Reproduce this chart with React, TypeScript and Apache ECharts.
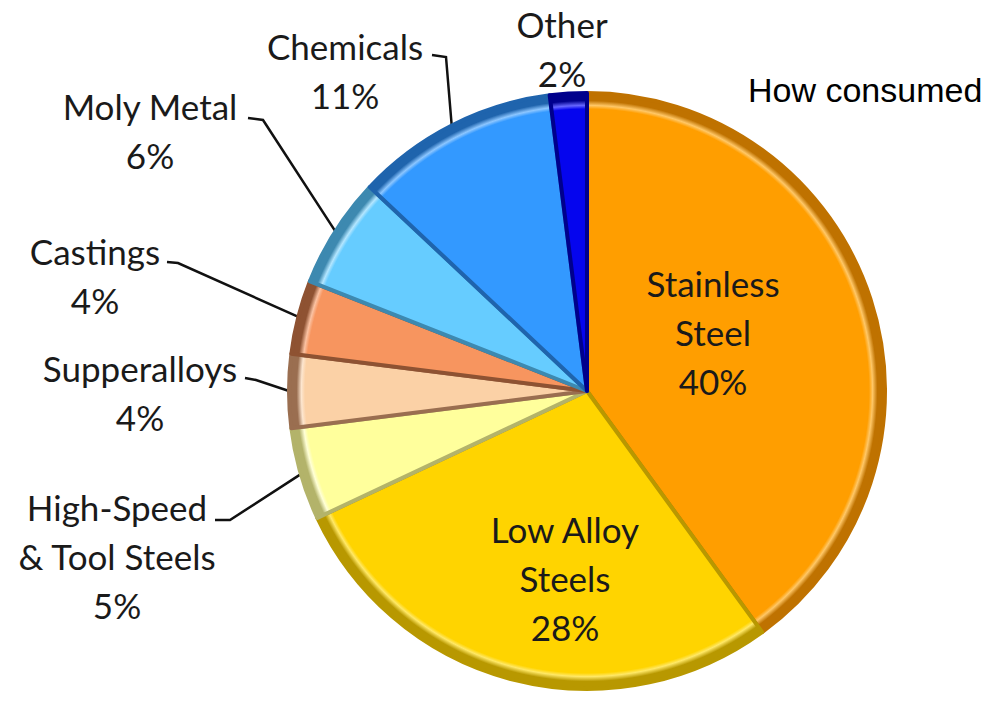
import React, { useEffect, useRef } from "react";
import * as echarts from "echarts";

const categories = [
  "Stainless\nSteel",
  "Low Alloy\nSteels",
  "High-Speed\n& Tool Steels",
  "Supperalloys",
  "Castings",
  "Moly Metal",
  "Chemicals",
  "Other",
];
const values = [40, 28, 5, 4, 4, 6, 11, 2];
const mainColors = ["#FF9E00", "#FFD400", "#FFFF9C", "#FBD1A6", "#F7955F", "#66CCFF", "#3399FF", "#0505EE"];
const darkColors = ["#BF7200", "#B89800", "#B3B36A", "#9A6E50", "#8E5232", "#3D89B0", "#1F64AD", "#00008C"];
const lightColors = ["#FFC766", "#FFE866", "#FFFFD6", "#FDE6CF", "#FBC2A2", "#B3E6FF", "#8CC6FF", "#6666FF"];

const CX = 587;
const CY = 391;
const R = 300;

// label layout (text block centers, leader elbows and ends)
const labelCenters: [number, number][] = [
  [713, 332], [565, 578], [117, 556], [140, 392], [95, 275], [150, 130], [345, 70], [562, 48],
];
const leaderElbows: ([number, number] | null)[] = [
  null, null, [230, 520], [256, 380], [178, 263], [263, 120], [446, 57], null,
];
const leaderEnds: ([number, number] | null)[] = [
  null, null, [215, 520], [245, 378], [167, 262], [248, 118], [432, 55], null,
];

export default function App() {
  const ref = useRef<HTMLDivElement>(null);
  useEffect(() => {
    document.body.style.margin = "0";
    const chart = echarts.init(ref.current!, null, { renderer: "svg" });
    const total = values.reduce((a, b) => a + b, 0);
    const edgePoint = (i: number): [number, number] => {
      let cum = 0;
      for (let k = 0; k < i; k++) cum += values[k];
      const mid = ((cum + values[i] / 2) / total) * Math.PI * 2;
      return [CX + R * Math.sin(mid), CY - R * Math.cos(mid)];
    };
    const data = values.map((v, i) => ({
      name: categories[i],
      value: v,
      itemStyle: {
        color: new echarts.graphic.RadialGradient(
          CX,
          CY,
          R,
          [
            { offset: 0, color: mainColors[i] },
            { offset: 0.94, color: mainColors[i] },
            { offset: 0.952, color: lightColors[i] },
            { offset: 0.968, color: darkColors[i] },
            { offset: 1, color: darkColors[i] },
          ],
          true
        ),
        borderColor: darkColors[i],
      },
      labelLine: { show: leaderEnds[i] !== null },
    }));
    chart.setOption({
      animation: false,
      backgroundColor: "#ffffff",
      graphic: [
        {
          type: "text",
          left: 748,
          top: 73,
          style: {
            text: "How consumed",
            font: "34px 'Liberation Sans', Arial, sans-serif",
            fill: "#000000",
          },
        },
      ],
      series: [
        {
          type: "pie",
          center: [CX, CY],
          radius: [0, R - 2],
          startAngle: 90,
          clockwise: true,
          avoidLabelOverlap: false,
          data,
          itemStyle: { borderWidth: 4 },
          label: {
            show: true,
            position: "outside",
            formatter: (p: any) => `${p.name}\n${p.value}%`,
            fontFamily: "Lato, 'Noto Sans', sans-serif",
            fontSize: 35,
            lineHeight: 49,
            color: "#1a1a1a",
            align: "center",
          },
          labelLine: {
            show: true,
            lineStyle: { color: "#111111", width: 2.5 },
            length: 20,
            length2: 10,
          },
          labelLayout: (params: any) => {
            const i = params.dataIndex;
            const c = labelCenters[i];
            const res: any = {
              x: c[0],
              y: c[1],
              align: "center",
              verticalAlign: "middle",
            };
            if (leaderEnds[i]) {
              const start =
                params.labelLinePoints && params.labelLinePoints[0]
                  ? params.labelLinePoints[0]
                  : edgePoint(i);
              res.labelLinePoints = [start, leaderElbows[i], leaderEnds[i]];
            }
            return res;
          },
        },
      ],
    });
    return () => chart.dispose();
  }, []);
  return <div ref={ref} style={{ width: 988, height: 702 }} />;
}
